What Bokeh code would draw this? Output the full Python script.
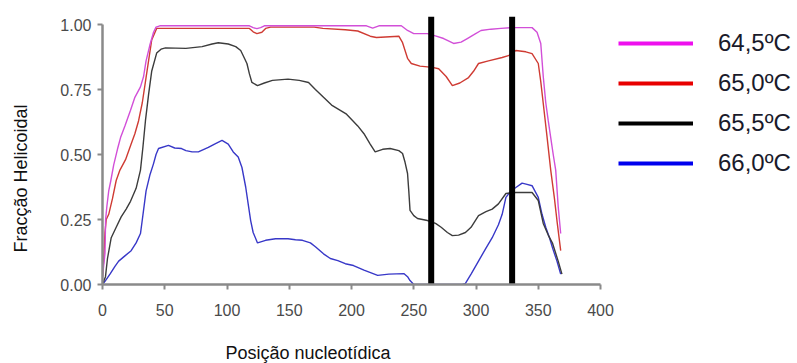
from bokeh.plotting import figure
from bokeh.models import Range1d, FixedTicker, Legend, LegendItem, NumeralTickFormatter, Title
from bokeh.embed import file_html
from bokeh.resources import INLINE

# ---------------- data ----------------
x_ticks = [0, 50, 100, 150, 200, 250, 300, 350, 400]
y_ticks = [0, 0.25, 0.5, 0.75, 1.0]
y_tick_labels = ["0.00", "0.25", "0.50", "0.75", "1.00"]

series_names = ["64,5ºC", "65,0ºC", "65,5ºC", "66,0ºC"]

x_645 = [0, 2, 2.5, 3.5, 5, 6.7, 9, 12, 14.5, 18, 22.5, 26, 30.5, 33, 35, 38, 41, 43, 46,
         80, 118, 121, 124, 127, 130, 170, 212, 217, 222, 240, 245, 250, 261, 268, 274, 282,
         288, 293, 298, 304, 312, 320, 328, 345, 349, 352, 354, 356, 358, 360, 362, 364, 366, 368]
y_645 = [0.03, 0.12, 0.25, 0.30, 0.36, 0.40, 0.46, 0.52, 0.565, 0.61, 0.67, 0.72, 0.76, 0.80, 0.86, 0.92, 0.97, 0.99, 0.995,
         0.995, 0.995, 0.988, 0.984, 0.988, 0.995, 0.995, 0.995, 0.986, 0.995, 0.995, 0.977, 0.965, 0.965, 0.955, 0.946, 0.927,
         0.932, 0.946, 0.96, 0.977, 0.982, 0.985, 0.988, 0.988, 0.97, 0.927, 0.80, 0.70, 0.63, 0.565, 0.50, 0.44, 0.30, 0.196]

x_650 = [0, 1, 2, 3, 5, 8, 11, 14, 18.5, 23, 26, 29, 32, 34.5, 37, 39.5, 43.5, 50, 80, 100, 118, 121, 124, 128, 131,
         135, 170, 177, 195, 205, 215, 220, 238, 241, 245, 248, 255, 265, 270, 276, 281, 287, 294, 298, 302, 310, 321,
         326, 332, 340, 345, 350, 352, 354, 357, 360, 363, 365, 368]
y_650 = [0.03, 0.10, 0.20, 0.25, 0.27, 0.33, 0.40, 0.44, 0.48, 0.54, 0.58, 0.63, 0.70, 0.78, 0.86, 0.94, 0.985, 0.985, 0.985, 0.985, 0.985, 0.972, 0.965, 0.97, 0.985,
         0.99, 0.99, 0.985, 0.98, 0.975, 0.955, 0.95, 0.955, 0.93, 0.87, 0.85, 0.84, 0.835, 0.83, 0.80, 0.765, 0.775, 0.796, 0.82, 0.85, 0.86, 0.873,
         0.88, 0.90, 0.895, 0.888, 0.85, 0.78, 0.696, 0.57, 0.44, 0.33, 0.246, 0.13]

x_655 = [0, 2.4, 4, 7, 11, 15, 19, 22.5, 27, 30.5, 32.5, 34.5, 37, 39.5, 43.5, 47, 50.6, 67, 80, 88, 93, 101, 107, 111,
         114, 116, 118, 120, 124.5, 130, 136.5, 149, 158, 165.5, 171, 177.5, 184, 191, 196, 201, 205, 210, 215, 219, 225,
         231, 238, 241, 243, 245, 246, 247, 250, 253, 261, 267.5, 272, 277, 281, 286, 291.5, 296, 302, 308, 313, 318, 324,
         332, 345, 350, 354, 358, 361.5, 366, 369]
y_655 = [0.0, 0.03, 0.10, 0.18, 0.22, 0.26, 0.29, 0.32, 0.37, 0.44, 0.53, 0.63, 0.73, 0.82, 0.89, 0.905, 0.91, 0.908, 0.915, 0.925, 0.93, 0.925, 0.915, 0.90,
         0.87, 0.85, 0.81, 0.777, 0.765, 0.775, 0.785, 0.79, 0.785, 0.777, 0.75, 0.72, 0.69, 0.67, 0.655, 0.63, 0.61, 0.58, 0.54, 0.51, 0.52,
         0.523, 0.515, 0.504, 0.47, 0.427, 0.36, 0.285, 0.265, 0.254, 0.246, 0.235, 0.22, 0.20, 0.188, 0.19, 0.20, 0.22, 0.265, 0.28, 0.29, 0.31, 0.35,
         0.354, 0.354, 0.323, 0.235, 0.19, 0.158, 0.09, 0.04]

x_660 = [0, 2.4, 6, 10, 13, 18, 23, 27, 30.5, 32, 35, 38, 41, 43, 45, 53, 58, 63.5, 67, 72, 77, 85, 90, 96, 101, 105,
         109, 112, 115, 117, 119, 121, 124.5, 131, 139, 149, 155, 160.6, 167, 171, 177.5, 183, 189, 195, 201.6, 210, 221,
         230, 242, 245, 247, 250, 265, 289, 291.5, 296, 302, 308, 313, 318, 321, 324, 328, 332, 337, 341, 345, 350, 353,
         356, 359, 361.5, 365, 368]
y_660 = [0.0, 0.015, 0.04, 0.07, 0.09, 0.11, 0.13, 0.16, 0.196, 0.25, 0.36, 0.42, 0.465, 0.50, 0.523, 0.535, 0.525, 0.523, 0.515, 0.51, 0.51, 0.527, 0.54, 0.554, 0.54, 0.51,
         0.49, 0.45, 0.375, 0.31, 0.246, 0.20, 0.16, 0.17, 0.176, 0.176, 0.172, 0.17, 0.16, 0.145, 0.118, 0.10, 0.092, 0.08, 0.073, 0.055, 0.035,
         0.04, 0.042, 0.03, 0.015, 0.0, 0.0, 0.0, 0.004, 0.04, 0.09, 0.14, 0.18, 0.23, 0.27, 0.335, 0.36, 0.373, 0.39, 0.385, 0.38, 0.335, 0.27,
         0.22, 0.18, 0.14, 0.09, 0.04]

marker_positions = [264, 329]
marker_top = 1.03

# ---------------- figure ----------------
# frame runs to the right edge so the legend can sit inside it; the x axis stops at 400
p = figure(width=797, height=363, output_backend="svg", toolbar_location=None,
           x_range=Range1d(0, 558.2), y_range=Range1d(0, 1.05),
           min_border_left=102, min_border_right=0, min_border_top=11, min_border_bottom=79)
p.outline_line_color = None
p.xgrid.visible = False
p.ygrid.visible = False
p.background_fill_color = "white"
p.border_fill_color = "white"

plot_colors = ["#d24fd8", "#cf3b33", "#3c3c3c", "#3838c8"]
legend_colors = ["#ee10ee", "#e80000", "#000000", "#0000ee"]
xs = [x_645, x_650, x_655, x_660]
ys = [y_645, y_650, y_655, y_660]

for i in [3, 2, 1, 0]:
    p.line(xs[i], ys[i], line_color=plot_colors[i], line_width=1.4)

for xm in marker_positions:
    p.segment(x0=[xm], y0=[0], x1=[xm], y1=[marker_top], line_color="black", line_width=6)

# legend with thick lines (proxy renderers whose points lie outside the view)
items = []
for i in range(4):
    r = p.line(x=[-60, -50], y=[-1, -1], line_color=legend_colors[i], line_width=4)
    items.append(LegendItem(label=series_names[i], renderers=[r]))
legend = Legend(items=items, location=(516, 101), orientation="vertical",
                glyph_width=75, glyph_height=40, label_height=28, label_standoff=25,
                spacing=0, padding=0, margin=0,
                label_text_font="Liberation Sans", label_text_font_size="24px",
                label_text_color="#1a1a2a",
                background_fill_alpha=0, border_line_color=None)
p.add_layout(legend, "center")

# axes
axis_color = "#8a8a8a"
for ax in [p.xaxis[0], p.yaxis[0]]:
    ax.axis_line_color = axis_color
    ax.axis_line_width = 2.5
    ax.major_tick_line_color = axis_color
    ax.major_tick_line_width = 2
    ax.major_tick_out = 5
    ax.major_tick_in = 0
    ax.minor_tick_line_color = None
    ax.major_label_text_font = "Liberation Sans"
    ax.major_label_text_font_size = "16px"
    ax.major_label_text_color = "#4a4a4a"

p.xaxis.ticker = FixedTicker(ticks=x_ticks)
p.xaxis.major_label_standoff = 14
p.xaxis.bounds = (0, 400)
p.yaxis.ticker = FixedTicker(ticks=y_ticks)
p.yaxis.formatter = NumeralTickFormatter(format="0.00")
p.yaxis.major_label_overrides = dict(zip(y_ticks, y_tick_labels))
p.yaxis.major_label_standoff = 6
p.yaxis.bounds = (0, 1)

# axis titles: an invisible spacer title, then the real title with no standoff
def make_title(text, offset, standoff):
    return Title(text=text, align="left", offset=offset, standoff=standoff,
                 text_font="Liberation Sans", text_font_size="18px", text_font_style="normal",
                 text_color="#111111")

p.add_layout(make_title("\u00a0", 0, 0), "below")
p.add_layout(make_title("Posição nucleotídica", 123, 0), "below")
p.add_layout(make_title("\u00a0", 0, 5), "left")
p.add_layout(make_title("Fracção Helicoidal", 32, 0), "left")

open("out.html", "w").write(file_html(p, INLINE))
